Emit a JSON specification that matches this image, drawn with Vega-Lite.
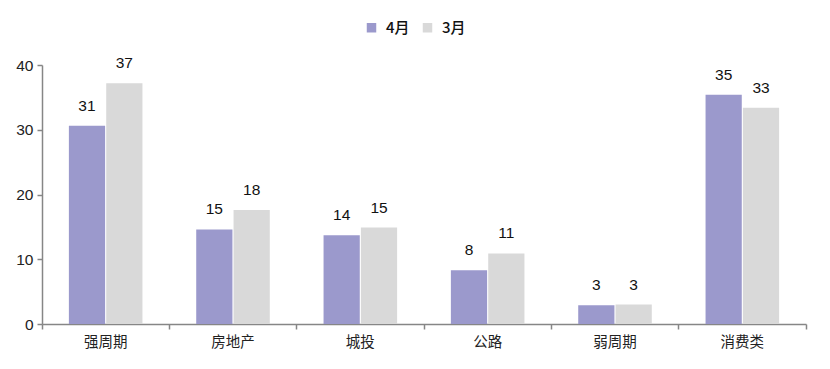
{
  "$schema": "https://vega.github.io/schema/vega-lite/v6.json",
  "autosize": "none",
  "width": 764,
  "height": 259,
  "padding": {"left": 42, "top": 65, "right": 24, "bottom": 45},
  "background": "white",
  "data": {
    "values": [
      {"cat": "强周期", "month": "4月", "v": 30.6},
      {"cat": "强周期", "month": "3月", "v": 37.2},
      {"cat": "房地产", "month": "4月", "v": 14.6},
      {"cat": "房地产", "month": "3月", "v": 17.6},
      {"cat": "城投", "month": "4月", "v": 13.7},
      {"cat": "城投", "month": "3月", "v": 14.9},
      {"cat": "公路", "month": "4月", "v": 8.3},
      {"cat": "公路", "month": "3月", "v": 10.9},
      {"cat": "弱周期", "month": "4月", "v": 2.9},
      {"cat": "弱周期", "month": "3月", "v": 3.0},
      {"cat": "消费类", "month": "4月", "v": 35.4},
      {"cat": "消费类", "month": "3月", "v": 33.4}
    ]
  },
  "encoding": {
    "x": {
      "field": "cat", "type": "nominal", "sort": null,
      "scale": {"paddingInner": 0, "paddingOuter": 0},
      "axis": {
        "title": null, "labelAngle": 0, "bandPosition": 1, "tickExtra": true,
        "domainColor": "#868686", "tickColor": "#868686", "tickSize": 5, "tickWidth": 1.5, "domainWidth": 1.5,
        "labelFont": "Noto Sans CJK SC", "labelFontSize": 14.5, "labelColor": "#222", "labelPadding": 6
      }
    },
    "xOffset": {"field": "month", "type": "nominal", "sort": ["4月", "3月"], "scale": {"paddingInner": 0.03, "paddingOuter": 0.72}},
    "y": {
      "field": "v", "type": "quantitative",
      "scale": {"domain": [0, 40]},
      "axis": {
        "title": null, "grid": false, "values": [0, 10, 20, 30, 40], "labelOverlap": false,
        "domainColor": "#868686", "tickColor": "#868686", "tickSize": 5, "tickWidth": 1.5, "domainWidth": 1.5,
        "labelFont": "Liberation Sans", "labelFontSize": 15.5, "labelColor": "#222", "labelPadding": 4
      }
    }
  },
  "layer": [
    {
      "mark": {"type": "bar"},
      "encoding": {
        "color": {
          "field": "month", "type": "nominal", "sort": ["4月", "3月"],
          "scale": {"domain": ["4月", "3月"], "range": ["#9b99cc", "#d9d9d9"]},
          "legend": {
            "title": null, "orient": "none", "direction": "horizontal", "legendX": 322, "legendY": -45,
            "symbolType": "square", "symbolSize": 90, "symbolStrokeWidth": 0, "symbolOpacity": 1,
            "labelFont": "Noto Sans CJK SC", "labelFontSize": 15, "labelFontWeight": 500, "labelColor": "#111", "columnPadding": 10, "labelOffset": 7
          }
        }
      }
    },
    {
      "mark": {"type": "text", "baseline": "bottom", "dy": -12, "font": "Liberation Sans", "fontSize": 15.5, "color": "#111"},
      "encoding": {
        "text": {"field": "v", "type": "quantitative", "format": ".0f"}
      }
    }
  ],
  "config": {"view": {"stroke": null}}
}
